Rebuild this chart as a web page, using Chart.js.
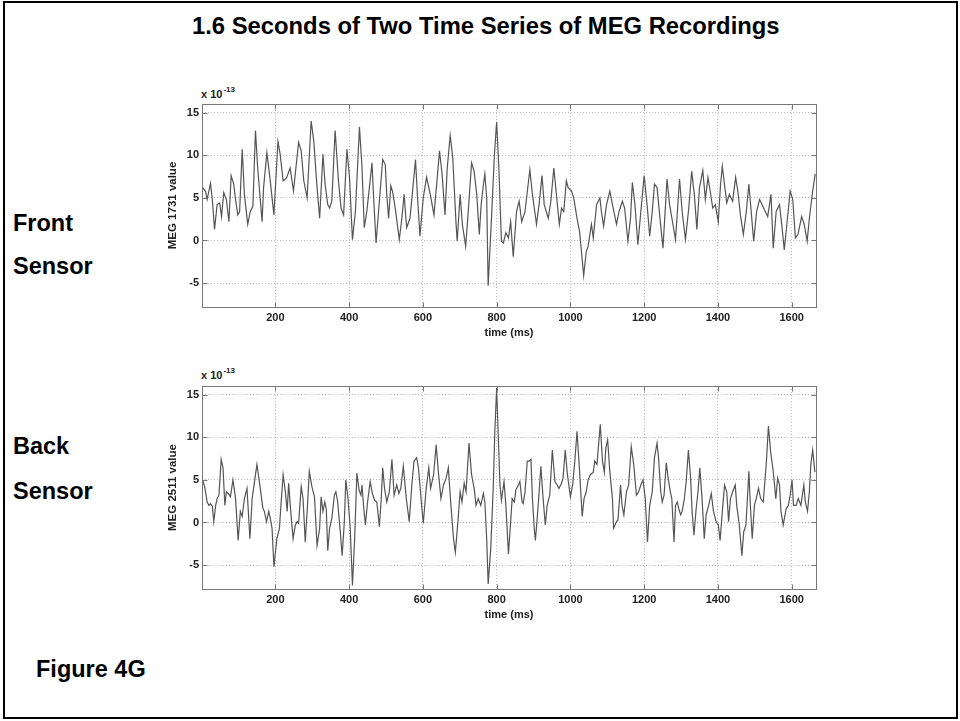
<!DOCTYPE html>
<html>
<head>
<meta charset="utf-8">
<script src="https://cdn.jsdelivr.net/npm/chart.js@4.4.1/dist/chart.umd.min.js"></script>
<style>
html,body{margin:0;padding:0;background:#fff;}
#page{position:relative;width:960px;height:721px;overflow:hidden;font-family:"Liberation Sans",Arial,sans-serif;background:#fff;}
#frame{position:absolute;left:3px;top:1px;width:951px;height:714px;border:2px solid #000;}
.lbl{position:absolute;font-weight:bold;font-size:23.5px;line-height:23.5px;color:#000;white-space:nowrap;}
.exp{position:absolute;font-size:11px;font-weight:bold;color:#222;line-height:11px;white-space:nowrap;}
.exp span{font-size:8px;position:relative;top:-6px;margin-left:1px;}
canvas{position:absolute;}
</style>
</head>
<body>
<div id="page">
  <div id="frame"></div>
  <div class="lbl" style="left:192px;top:14px;font-size:23.8px;">1.6 Seconds of Two Time Series of MEG Recordings</div>
  <div class="lbl" style="left:13px;top:212px;">Front</div>
  <div class="lbl" style="left:13px;top:255px;">Sensor</div>
  <div class="lbl" style="left:13px;top:435px;">Back</div>
  <div class="lbl" style="left:13px;top:480px;">Sensor</div>
  <div class="lbl" style="left:36px;top:658px;">Figure 4G</div>
  <div class="exp" style="left:201px;top:89px;">x 10<span>-13</span></div>
  <div class="exp" style="left:201px;top:370px;">x 10<span>-13</span></div>
  <canvas id="c1" width="660" height="245" style="left:160px;top:100px;"></canvas>
  <canvas id="c2" width="660" height="245" style="left:160px;top:382px;"></canvas>
</div>
<script>
// ---- axis settings ----
const xTicks = [200, 400, 600, 800, 1000, 1200, 1400, 1600];
const yTicks = [-5, 0, 5, 10, 15];
const xRange = [1, 1666];
const yRange = [-7.8, 16];

// ---- Front sensor (MEG 1731), time in ms, value in 1e-13 ----
const frontTime = [
  3,11,15,24,29,35,42,49,54,60, 67,74,80,87,92,98,103,110,116,125,
  132,139,146,152,164,168,177,185,196,207, 213,221,230,240,249,263,270,277,286,297,
  304,313,320,
  329,335,342,347,353,362,371,378,385,394, 401,409,417,428,435,441,448,462,466,473,
  482,491,498,502,507,513,518,525,536,543, 549,556,565,580,585,592,601,610,620,630,
  638,645,652,660,666,674,681,690,693,701, 707,716,723,732,739,746,753,758,
  764,768,773,777,786,794,800,806,813,818, 825,832,838,845,854,861,868,877,890,897,
  908,915,923,929,940,947,955,962,970,976, 982,989,994,1003,1009,1018,1025,1036,1043,1048,
  1057,1062,1071,1080,1084,1090,1098,1107,1114,1125, 1132,1141,1147,1156,1163,1168,1175,1183,1191,
  1200,1208,1215,1222,1228,1235,1242,1251,1258,1262, 1269,1278,1285,1296,1303,1312,1321,1329,1336,1343,
  1350,1359,1366,1373,1379,1386,1393,1401,1407,1412, 1418,1424,1431,1440,1448,1454,1461,1469,1477,1484,
  1491,1497,1505,1513,1520,1526,1535,1544,1550,1558, 1567,1574,1580,1587,1596,1603,1610,1617,1627,1634,
  1642,1648,1657,1664
];
const frontValue = [
  6.2,5.7,4.8,6.7,4.8,1.3,4.2,4.4,2.8,5.6, 4.8,2.2,7.6,6.6,4.8,3.0,3.4,10.7,5.4,1.9,
  3.4,4.0,12.9,8.5,2.2,6.2,10.3,7.4,3.0,11.6, 10.1,7.0,7.3,8.5,5.8,11.5,10.5,7.0,5.0,14.0,
  11.7,6.2,2.6,
  10.1,6.5,4.2,3.8,4.6,12.9,7.0,3.8,3.0,10.7, 7.4,0.1,3.4,13.3,8.5,1.5,3.4,9.1,5.4,-0.3,
  4.6,9.5,8.9,5.4,2.6,6.4,5.7,3.8,0.1,2.6, 5.4,1.5,2.6,9.5,5.4,0.5,5.0,7.4,5.4,3.0,
  6.9,10.5,7.8,3.0,8.5,12.3,9.7,1.9,-0.1,5.4, 1.9,-0.7,3.4,9.1,8.1,5.4,0.7,4.2,
  6.5,7.8,5.0,-5.3,2.6,10.1,13.9,8.5,-0.1,-0.3, 0.9,0.3,2.2,-1.9,3.4,4.6,2.2,3.4,8.3,5.4,
  1.9,4.2,7.6,4.2,2.6,4.6,8.5,5.4,1.9,3.8, 3.4,7.0,6.2,5.8,5.0,2.6,1.0,-4.1,-1.3,-0.7,
  1.9,0.3,4.2,5.0,3.4,1.7,4.2,5.8,4.2,1.9, 3.4,4.6,3.8,-0.1,2.6,6.8,4.2,-0.5,3.4,
  7.6,4.2,0.5,3.4,6.6,6.2,3.0,-0.9,4.2,7.2, 4.2,1.9,0.1,7.2,3.4,0.1,3.8,8.1,5.4,1.3,
  6.2,8.2,4.8,7.4,5.8,3.8,4.2,2.2,6.5,8.7, 6.5,4.4,5.4,4.6,7.4,5.8,3.0,0.7,3.4,6.6,
  3.0,-0.1,3.4,4.8,4.2,3.6,2.8,5.4,-0.9,3.4, 4.2,1.5,-1.1,1.9,5.8,4.8,0.3,0.7,2.8,1.9,
  -0.1,2.6,5.8,7.8
];

// ---- Back sensor (MEG 2511) ----
const backTime = [
  3,9,15,20,24,29,33,38,42,47, 53,58,63,67,72,78,85,92,99,105,
  110,116,123,131,137,146,150,159,166,170, 176,182,186,191,196,204,211,215,221,227,
  232,236,242,248,254,259,263,270,275,281, 287,292,299,306,313,320,324,329,334,338,
  342,347,353,360,364,369,376,381,387,391, 397,403,409,415,421,427,432,435,439,444,
  450,457,463,469,475,482,487,491,496,502, 509,516,522,529,535,540,547,555,563,570,
  576,583,588,595,601,609,616,621,629,636, 642,649,656,663,669,676,683,688,695,701,
  706,712,717,725,732,739,744,750,757,
  764,768,773,777,784,791,795,800,804,809, 813,820,825,832,838,842,848,852,859,863,
  869,872,877,883,888,893,897,902,905,910, 914,920,926,932,937,944,951,958,964,969,
  976,980,986,992,1000,1006,1012,1018,1025,1032, 1037,1043,1048,1054,1062,1066,1072,1081,1087,1092,
  1096,1101,1107,1114,1117,1125,1129,1136,1140,1145, 1152,1158,1165,1172,1179,1185,1191,1197,
  1203,1209,1215,1222,1228,1235,1239,1245,1249,1254, 1260,1265,1271,1275,1281,1285,1290,1294,1299,1303,
  1309,1314,1320,1326,1330,1335,1341,1346,1351,1357, 1363,1368,1375,1382,1388,1395,1401,1406,1412,1418,
  1424,1429,1434,1440,1447,1451,1458,1465,1470,1476, 1484,1488,1493,1499,1504,1510,1516,1523,1531,1537,
  1543,1550,1557,1562,1567,1571,1577,1585,1591,1596, 1601,1605,1612,1618,1625,1633,1637,1643,1648,1652,
  1657,1663
];
const backValue = [
  5.0,4.0,2.4,2.0,2.2,1.9,0.1,2.0,2.8,3.2, 7.4,6.4,2.0,3.6,3.4,3.0,5.0,2.8,-2.1,1.3,
  0.7,2.8,4.0,-1.9,2.8,5.6,6.8,4.0,1.7,1.3, 0.1,1.3,0.5,-0.7,-5.2,-1.9,-0.7,2.0,5.6,3.6,
  1.3,4.6,1.1,-1.9,-0.3,0.1,-0.1,4.2,2.8,-2.3, 2.0,6.0,4.2,3.0,-2.7,-0.7,3.0,1.3,2.4,1.6,
  -3.3,-0.7,0.5,3.2,3.6,2.4,-1.1,-3.9,0.1,5.0, 2.8,-0.7,-7.4,-1.9,5.8,3.8,3.2,4.4,2.0,-0.3,
  2.4,4.8,3.4,2.6,2.4,-0.5,2.8,6.4,4.0,2.4, 3.6,7.4,3.2,4.4,3.4,4.0,6.6,2.8,0.1,4.4,
  7.2,7.6,6.4,2.8,-0.1,4.0,6.4,4.0,5.6,9.1, 5.9,2.8,4.4,5.2,6.4,2.0,-1.9,-3.5,0.1,3.6,
  2.4,4.6,3.6,9.3,5.6,4.0,2.0,2.8,2.0,
  3.4,2.4,-1.9,-7.2,-3.1,4.4,10.6,15.8,10.6,4.4, 2.6,4.8,2.0,-3.7,0.1,2.8,2.4,3.8,4.4,4.8,
  2.4,2.2,3.6,7.2,7.2,7.4,2.8,-0.7,-2.1,0.5, 2.8,6.6,2.8,-0.3,2.0,3.2,8.5,4.8,4.4,4.0,
  4.6,5.2,8.5,5.6,3.0,4.4,7.2,10.7,5.9,0.7, 2.8,3.6,5.0,5.6,5.9,7.2,6.8,11.5,7.2,5.9,
  8.7,9.7,5.9,2.8,-0.7,0.1,0.3,4.4,2.0,0.9, 3.6,4.4,8.9,6.7,3.2,3.6,4.4,5.0,
  2.8,-2.3,2.0,3.6,7.6,9.3,7.6,3.6,2.4,3.2, 7.0,5.2,3.6,2.8,-2.3,2.0,2.4,1.6,0.9,1.3,
  2.8,4.8,8.5,5.2,1.3,-1.5,1.6,3.6,6.4,2.8, -1.9,0.9,2.0,3.4,1.3,0.1,-0.3,-2.1,1.3,4.4,
  3.6,0.1,2.8,3.6,4.4,2.0,-0.3,-3.9,-1.1,-0.3, 6.0,2.0,-1.9,2.0,2.8,4.0,2.8,2.4,6.8,11.3,
  8.3,6.0,2.8,5.2,4.4,1.3,-0.3,1.6,2.0,3.2, 5.0,2.0,2.0,2.8,2.0,4.4,2.4,1.3,3.6,6.8,
  8.5,5.9
];

const FONT = 'Liberation Sans';

// Matlab-style box around the plot area with inward tick marks on all sides
const boxPlugin = {
  id: 'box',
  afterDraw(chart) {
    const {ctx, chartArea: a, scales: {x, y}} = chart;
    ctx.save();
    ctx.strokeStyle = '#777';
    ctx.lineWidth = 1;
    const L = Math.round(a.left) + 0.5, R = Math.round(a.right) + 0.5;
    const T = Math.round(a.top) + 0.5, B = Math.round(a.bottom) + 0.5;
    ctx.strokeRect(L, T, R - L, B - T);
    ctx.beginPath();
    xTicks.forEach(v => {
      const px = Math.round(x.getPixelForValue(v)) + 0.5;
      ctx.moveTo(px, B); ctx.lineTo(px, B - 5);
      ctx.moveTo(px, T); ctx.lineTo(px, T + 5);
    });
    yTicks.forEach(v => {
      const py = Math.round(y.getPixelForValue(v)) + 0.5;
      ctx.moveTo(L, py); ctx.lineTo(L + 5, py);
      ctx.moveTo(R, py); ctx.lineTo(R - 5, py);
    });
    ctx.stroke();
    ctx.restore();
  }
};

function zeroPad(s) {
  s.paddingTop = 0; s.paddingBottom = 0; s.paddingLeft = 0; s.paddingRight = 0;
}

function makeChart(id, times, values, yTitle) {
  const pts = times.map((t, i) => ({x: t, y: values[i]}));
  const gridOpts = {color: '#bdbdbd', lineWidth: 1, drawTicks: false};
  const borderOpts = {display: false, dash: [1, 2]};
  const tickFont = {family: FONT, size: 11, weight: 'bold'};
  return new Chart(document.getElementById(id), {
    type: 'line',
    data: {datasets: [{data: pts, borderColor: '#555', borderWidth: 1.2, pointRadius: 0, tension: 0, fill: false}]},
    options: {
      responsive: false,
      animation: false,
      devicePixelRatio: 1,
      layout: {padding: {top: 4, right: 4, left: 0, bottom: 0}},
      plugins: {legend: {display: false}, tooltip: {enabled: false}},
      scales: {
        x: {
          type: 'linear', min: xRange[0], max: xRange[1],
          afterBuildTicks: s => { s.ticks = xTicks.map(v => ({value: v})); },
          afterFit: s => { s.height = 38; zeroPad(s); },
          grid: gridOpts, border: borderOpts,
          ticks: {padding: 4, color: '#222', font: tickFont, maxRotation: 0, autoSkip: false, callback: v => String(v)},
          title: {display: true, text: 'time (ms)', color: '#222', font: tickFont, padding: {top: 0, bottom: 5}}
        },
        y: {
          type: 'linear', min: yRange[0], max: yRange[1],
          afterBuildTicks: s => { s.ticks = yTicks.map(v => ({value: v})); },
          afterFit: s => { s.width = 42; zeroPad(s); },
          grid: gridOpts, border: borderOpts,
          ticks: {padding: 3, color: '#222', font: tickFont, callback: v => String(v)},
          title: {display: true, text: yTitle, color: '#222', font: {family: FONT, size: 11.5, weight: 'bold'}, padding: {top: 6, bottom: 0}}
        }
      }
    },
    plugins: [boxPlugin]
  });
}

makeChart('c1', frontTime, frontValue, 'MEG 1731 value');
makeChart('c2', backTime, backValue, 'MEG 2511 value');
</script>
</body>
</html>
